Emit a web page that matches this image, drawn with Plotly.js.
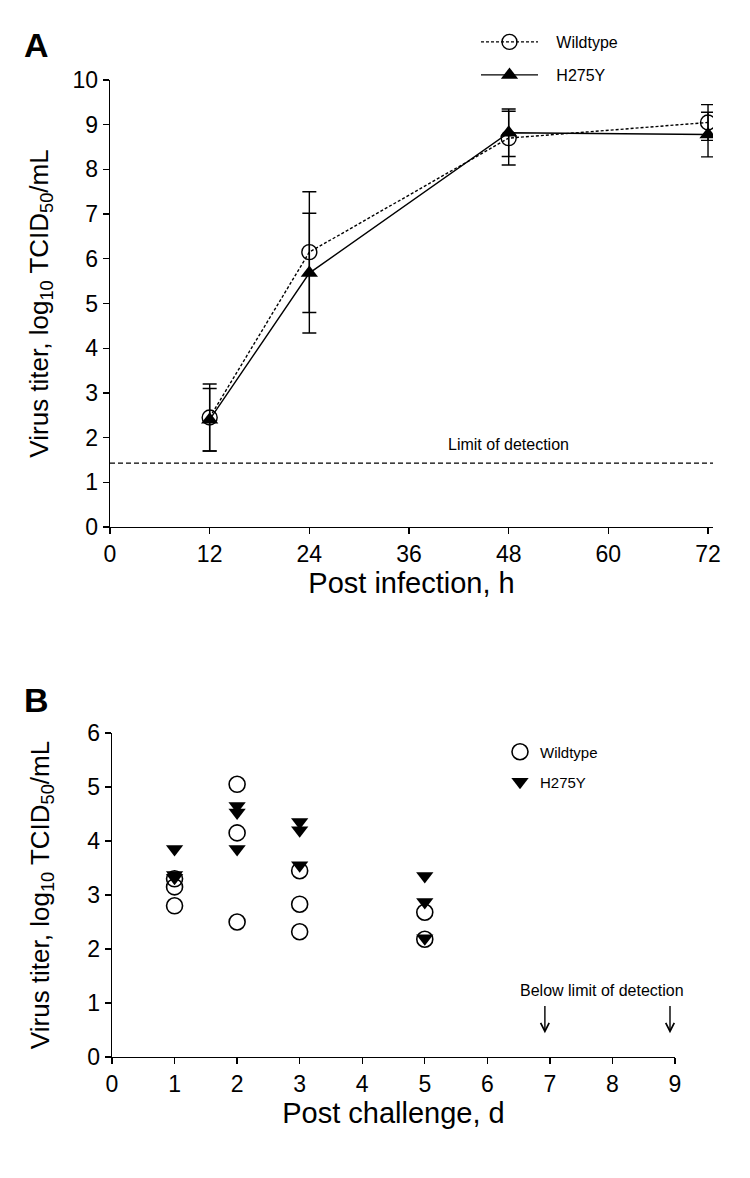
<!DOCTYPE html>
<html>
<head>
<meta charset="utf-8">
<script src="https://cdn.plot.ly/plotly-3.0.1.min.js"></script>
<style>html,body{margin:0;padding:0;background:#fff;}#chart{width:750px;height:1178px;}</style>
</head>
<body>
<div id="chart"></div>
<script>
// ---------- Panel A data ----------
const hoursA = [12, 24, 48, 72];
const wildtypeA = [2.45, 6.15, 8.7, 9.05];
const wildtypeErrA = [0.75, 1.35, 0.6, 0.4];
const h275yA = [2.4, 5.68, 8.82, 8.78];
const h275yErrA = [0.7, 1.34, 0.53, 0.5];
const limitOfDetectionA = 1.43;
const xTicksA = [0, 12, 24, 36, 48, 60, 72];
const yTicksA = [0, 1, 2, 3, 4, 5, 6, 7, 8, 9, 10];

// ---------- Panel B data ----------
const wildtypeDaysB = [1, 1, 1, 2, 2, 2, 3, 3, 3, 5, 5];
const wildtypeB = [3.3, 3.15, 2.8, 5.05, 4.15, 2.5, 3.45, 2.83, 2.32, 2.68, 2.18];
const h275yDaysB = [1, 1, 1, 2, 2, 2, 3, 3, 3, 5, 5, 5];
const h275yB = [3.85, 3.37, 3.32, 4.65, 4.53, 3.85, 4.35, 4.2, 3.55, 3.35, 2.87, 2.2];
const belowLimitDaysB = [7, 9];
const xTicksB = [0, 1, 2, 3, 4, 5, 6, 7, 8, 9];
const yTicksB = [0, 1, 2, 3, 4, 5, 6];

const FONT = 'Arial, "Liberation Sans", sans-serif';
const W = 750, H = 1178;
const px = v => v / W;
const py = v => 1 - v / H;
const PAD = '\u00a0\u00a0\u00a0';

const traces = [
  {
    x: hoursA, y: wildtypeA, name: PAD + 'Wildtype', xaxis: 'x', yaxis: 'y',
    mode: 'lines+markers', legend: 'legend',
    line: {color: '#000', width: 1.4, dash: '3px,2px'},
    marker: {symbol: 'circle-open', size: 15, color: '#000', line: {width: 1.4, color: '#000'}},
    error_y: {type: 'data', array: wildtypeErrA, visible: true, color: '#000', thickness: 1.4, width: 7}
  },
  {
    x: hoursA, y: h275yA, name: PAD + 'H275Y', xaxis: 'x', yaxis: 'y',
    mode: 'lines+markers', legend: 'legend2',
    line: {color: '#000', width: 1.4},
    marker: {symbol: 'triangle-up', size: 15, color: '#000'},
    error_y: {type: 'data', array: h275yErrA, visible: true, color: '#000', thickness: 1.4, width: 7}
  },
  {
    x: wildtypeDaysB, y: wildtypeB, name: 'Wildtype', xaxis: 'x2', yaxis: 'y2',
    mode: 'markers', legend: 'legend3',
    marker: {symbol: 'circle-open', size: 16, color: '#000', line: {width: 1.6, color: '#000'}}
  },
  {
    x: h275yDaysB, y: h275yB, name: 'H275Y', xaxis: 'x2', yaxis: 'y2',
    mode: 'markers', legend: 'legend4',
    marker: {symbol: 'triangle-down', size: 15, color: '#000'}
  }
];

const axisCommon = {
  showline: true, linecolor: '#000', linewidth: 1.4,
  ticks: 'outside', ticklen: 6, tickwidth: 1.4, tickcolor: '#000',
  showgrid: false, zeroline: false,
  tickfont: {family: FONT, size: 23, color: '#000'},
  fixedrange: true
};
const xTitleFont = {family: FONT, size: 29, color: '#000'};
const yTitleFont = {family: FONT, size: 26, color: '#000'};

const legendCommon = {
  bgcolor: 'rgba(0,0,0,0)', borderwidth: 0,
  font: {family: FONT, size: 16, color: '#000'},
  xanchor: 'left', yanchor: 'middle', itemwidth: 57, tracegroupgap: 0
};

const layout = {
  width: W, height: H,
  margin: {l: 0, r: 0, t: 0, b: 0},
  paper_bgcolor: '#fff', plot_bgcolor: 'rgba(0,0,0,0)',
  font: {family: FONT, color: '#000'},
  showlegend: true,
  xaxis: Object.assign({}, axisCommon, {
    domain: [px(110), px(713)], range: [0, 72.6], tickvals: xTicksA, anchor: 'y',
    title: {text: 'Post infection, h', font: xTitleFont, standoff: 3}
  }),
  yaxis: Object.assign({}, axisCommon, {
    domain: [py(527), py(80)], range: [0, 10], tickvals: yTicksA, anchor: 'x',
    title: {text: 'Virus titer, log<sub>10</sub> TCID<sub>50</sub>/mL', font: yTitleFont, standoff: 16}
  }),
  xaxis2: Object.assign({}, axisCommon, {
    domain: [px(112), px(675)], range: [0, 9], tickvals: xTicksB, anchor: 'y2',
    title: {text: 'Post challenge, d', font: xTitleFont, standoff: 6}
  }),
  yaxis2: Object.assign({}, axisCommon, {
    domain: [py(1057), py(733)], range: [0, 6], tickvals: yTicksB, anchor: 'x2',
    title: {text: 'Virus titer, log<sub>10</sub> TCID<sub>50</sub>/mL', font: yTitleFont, standoff: 30}
  }),
  legend: Object.assign({}, legendCommon, {x: px(476), y: py(42)}),
  legend2: Object.assign({}, legendCommon, {x: px(476), y: py(75)}),
  legend3: Object.assign({}, legendCommon, {x: px(500), y: py(752), itemwidth: 30, font: {family: FONT, size: 15, color: '#000'}}),
  legend4: Object.assign({}, legendCommon, {x: px(500), y: py(782), itemwidth: 30, font: {family: FONT, size: 15, color: '#000'}}),
  shapes: [
    {type: 'line', xref: 'x', yref: 'y', x0: 0, x1: 72.6, y0: limitOfDetectionA, y1: limitOfDetectionA,
     line: {color: '#000', width: 1.4, dash: '5px,3px'}}
  ],
  annotations: [
    {xref: 'paper', yref: 'paper', x: px(22), y: py(45), text: '<b>A</b>', showarrow: false,
     font: {family: FONT, size: 34, color: '#000'}, xanchor: 'left', yanchor: 'middle'},
    {xref: 'paper', yref: 'paper', x: px(22), y: py(700), text: '<b>B</b>', showarrow: false,
     font: {family: FONT, size: 34, color: '#000'}, xanchor: 'left', yanchor: 'middle'},
    {xref: 'x', yref: 'y', x: 48, y: limitOfDetectionA, yshift: 19, text: 'Limit of detection', showarrow: false,
     font: {family: FONT, size: 16, color: '#000'}},
    {xref: 'x2', yref: 'y2', x: (belowLimitDaysB[0] + belowLimitDaysB[1]) / 2, y: 1.24, xshift: -10,
     text: 'Below limit of detection', showarrow: false, font: {family: FONT, size: 16, color: '#000'}}
  ].concat(belowLimitDaysB.map(d => ({
    xref: 'x2', yref: 'y2', x: d, y: 0.44, xshift: -5, axref: 'x2', ayref: 'y2', ax: d, ay: 0.97,
    showarrow: true, arrowhead: 5, arrowsize: 1.2, arrowwidth: 1.4, arrowcolor: '#000', text: ''
  })))
};

Plotly.newPlot('chart', traces, layout, {staticPlot: true, displayModeBar: false});
</script>
</body>
</html>
